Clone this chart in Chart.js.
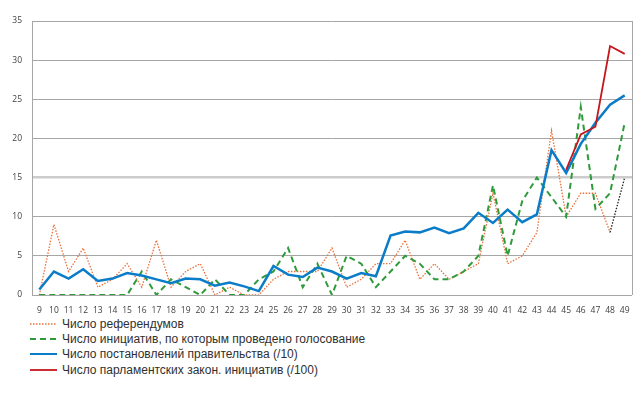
<!DOCTYPE html>
<html>
<head>
<meta charset="utf-8">
<script src="https://cdn.jsdelivr.net/npm/chart.js@4.4.1/dist/chart.umd.min.js"></script>
<style>
  body { margin: 0; background: #fff; }
  #wrap { position: relative; width: 640px; height: 315px; }
  #legend { position: absolute; left: 30px; top: 316px; font-family: "Liberation Sans", Arial, sans-serif; font-size: 12px; color: #303030; }
  .item { height: 15.3px; display: flex; align-items: center; }
  .item svg { margin-right: 5px; }
</style>
</head>
<body>
<div id="wrap"><canvas id="chart" width="640" height="315"></canvas></div>
<div id="legend"></div>
<script>
// categories
const labels = [9,10,11,12,13,14,15,16,17,18,19,20,21,22,23,24,25,26,27,28,29,30,31,32,33,34,35,36,37,38,39,40,41,42,43,44,45,46,47,48,49];

// Число референдумов (last point drawn as black dotted segment)
const referendums = [0,9,3,6,1,2,4,1,7,1,3,4,0,1,0,0,2,3,3,3,6,1,2,4,4,7,2,4,2,3,4,13,4,5,8,21,10,13,13,8,15];
// Число инициатив, по которым проведено голосование
const initiatives = [0,0,0,0,0,0,0,3,0,2,1,0,2,0,0,2,3,6,1,4,0,5,4,1,3,5,4,2,2,3,5,14,5,12,15,12.5,10,24,11,13,22];
// Число постановлений правительства (/10)
const decrees = [0.7,3,2.1,3.3,1.8,2.1,2.8,2.5,2.0,1.5,2.1,2.0,1.2,1.6,1.1,0.5,3.7,2.6,2.3,3.5,3.0,2.1,2.8,2.4,7.6,8.1,8.0,8.6,7.9,8.5,10.5,9.2,10.9,9.3,10.3,18.5,15.6,19.3,22,24.3,25.5];
// Число парламентских закон. инициатив (/100)
const parliament = [null,null,null,null,null,null,null,null,null,null,null,null,null,null,null,null,null,null,null,null,null,null,null,null,null,null,null,null,null,null,null,null,null,null,null,null,16,20.5,21.5,31.8,30.8];

const yTicks = [0,5,10,15,20,25,30,35];

const seriesNames = [
    'Число референдумов',
    'Число инициатив, по которым проведено голосование',
    'Число постановлений правительства (/10)',
    'Число парламентских закон. инициатив (/100)'
];

const lastIdx = labels.length - 1;

// right frame line
const framePlugin = {
    id: 'frame',
    afterDraw(chart) {
        const a = chart.chartArea;
        const ctx = chart.ctx;
        ctx.save();
        ctx.strokeStyle = '#a6a6a6';
        ctx.lineWidth = 1;
        ctx.beginPath();
        ctx.moveTo(a.right + 0.5, a.top);
        ctx.lineTo(a.right + 0.5, a.bottom);
        ctx.stroke();
        ctx.restore();
    }
};

const chart = new Chart(document.getElementById('chart'), {
    type: 'line',
    data: {
        labels: labels,
        datasets: [
            {
                label: seriesNames[0],
                data: referendums,
                borderColor: '#E8703A',
                borderWidth: 1.3,
                borderDash: [1.5, 1.5],
                segment: {
                    borderColor: c => c.p1DataIndex === lastIdx ? '#222' : undefined
                },
                order: 3
            },
            {
                label: seriesNames[1],
                data: initiatives,
                borderColor: '#2E9B3A',
                borderWidth: 2,
                borderDash: [6, 4],
                order: 2
            },
            {
                label: seriesNames[2],
                data: decrees,
                borderColor: '#0B7CC7',
                borderWidth: 2.5,
                order: 1
            },
            {
                label: seriesNames[3],
                data: parliament,
                borderColor: '#C4161C',
                borderWidth: 1.8,
                order: 0
            }
        ]
    },
    options: {
        responsive: false,
        animation: false,
        elements: {
            point: { radius: 0 },
            line: { tension: 0 }
        },
        layout: { padding: { top: 21, right: 8, left: 0, bottom: 0 } },
        scales: {
            x: {
                offset: true,
                grid: { display: false },
                border: { display: false },
                ticks: {
                    autoSkip: false,
                    maxRotation: 0,
                    padding: 2,
                    color: '#404040',
                    font: { family: 'Open Sans', size: 8.5 }
                },
                afterFit: s => { s.height = 20; }
            },
            y: {
                min: 0,
                max: 35,
                afterBuildTicks: s => { s.ticks = yTicks.map(v => ({ value: v })); },
                grid: {
                    color: c => c.tick && c.tick.value === 15 ? '#cccccc' : '#a6a6a6',
                    lineWidth: c => c.tick && c.tick.value === 15 ? 2.5 : 1,
                    drawTicks: false
                },
                border: { display: true, color: '#a6a6a6' },
                ticks: {
                    padding: 10,
                    color: '#404040',
                    font: { family: 'Open Sans', size: 8.5 }
                },
                afterFit: s => { s.width = 32; }
            }
        },
        plugins: {
            legend: { display: false },
            tooltip: { enabled: false }
        }
    },
    plugins: [framePlugin]
});

// legend below the chart, one entry per row
const legendEl = document.getElementById('legend');
chart.data.datasets.forEach(ds => {
    const row = document.createElement('div');
    row.className = 'item';
    const dash = ds.borderDash ? ds.borderDash.join(',') : 'none';
    row.innerHTML = '<svg width="27" height="6"><line x1="0" y1="3" x2="27" y2="3" stroke="' + ds.borderColor +
        '" stroke-width="' + Math.min(ds.borderWidth, 2) + '" stroke-dasharray="' + dash + '"/></svg><span>' + ds.label + '</span>';
    legendEl.appendChild(row);
});
</script>
</body>
</html>
